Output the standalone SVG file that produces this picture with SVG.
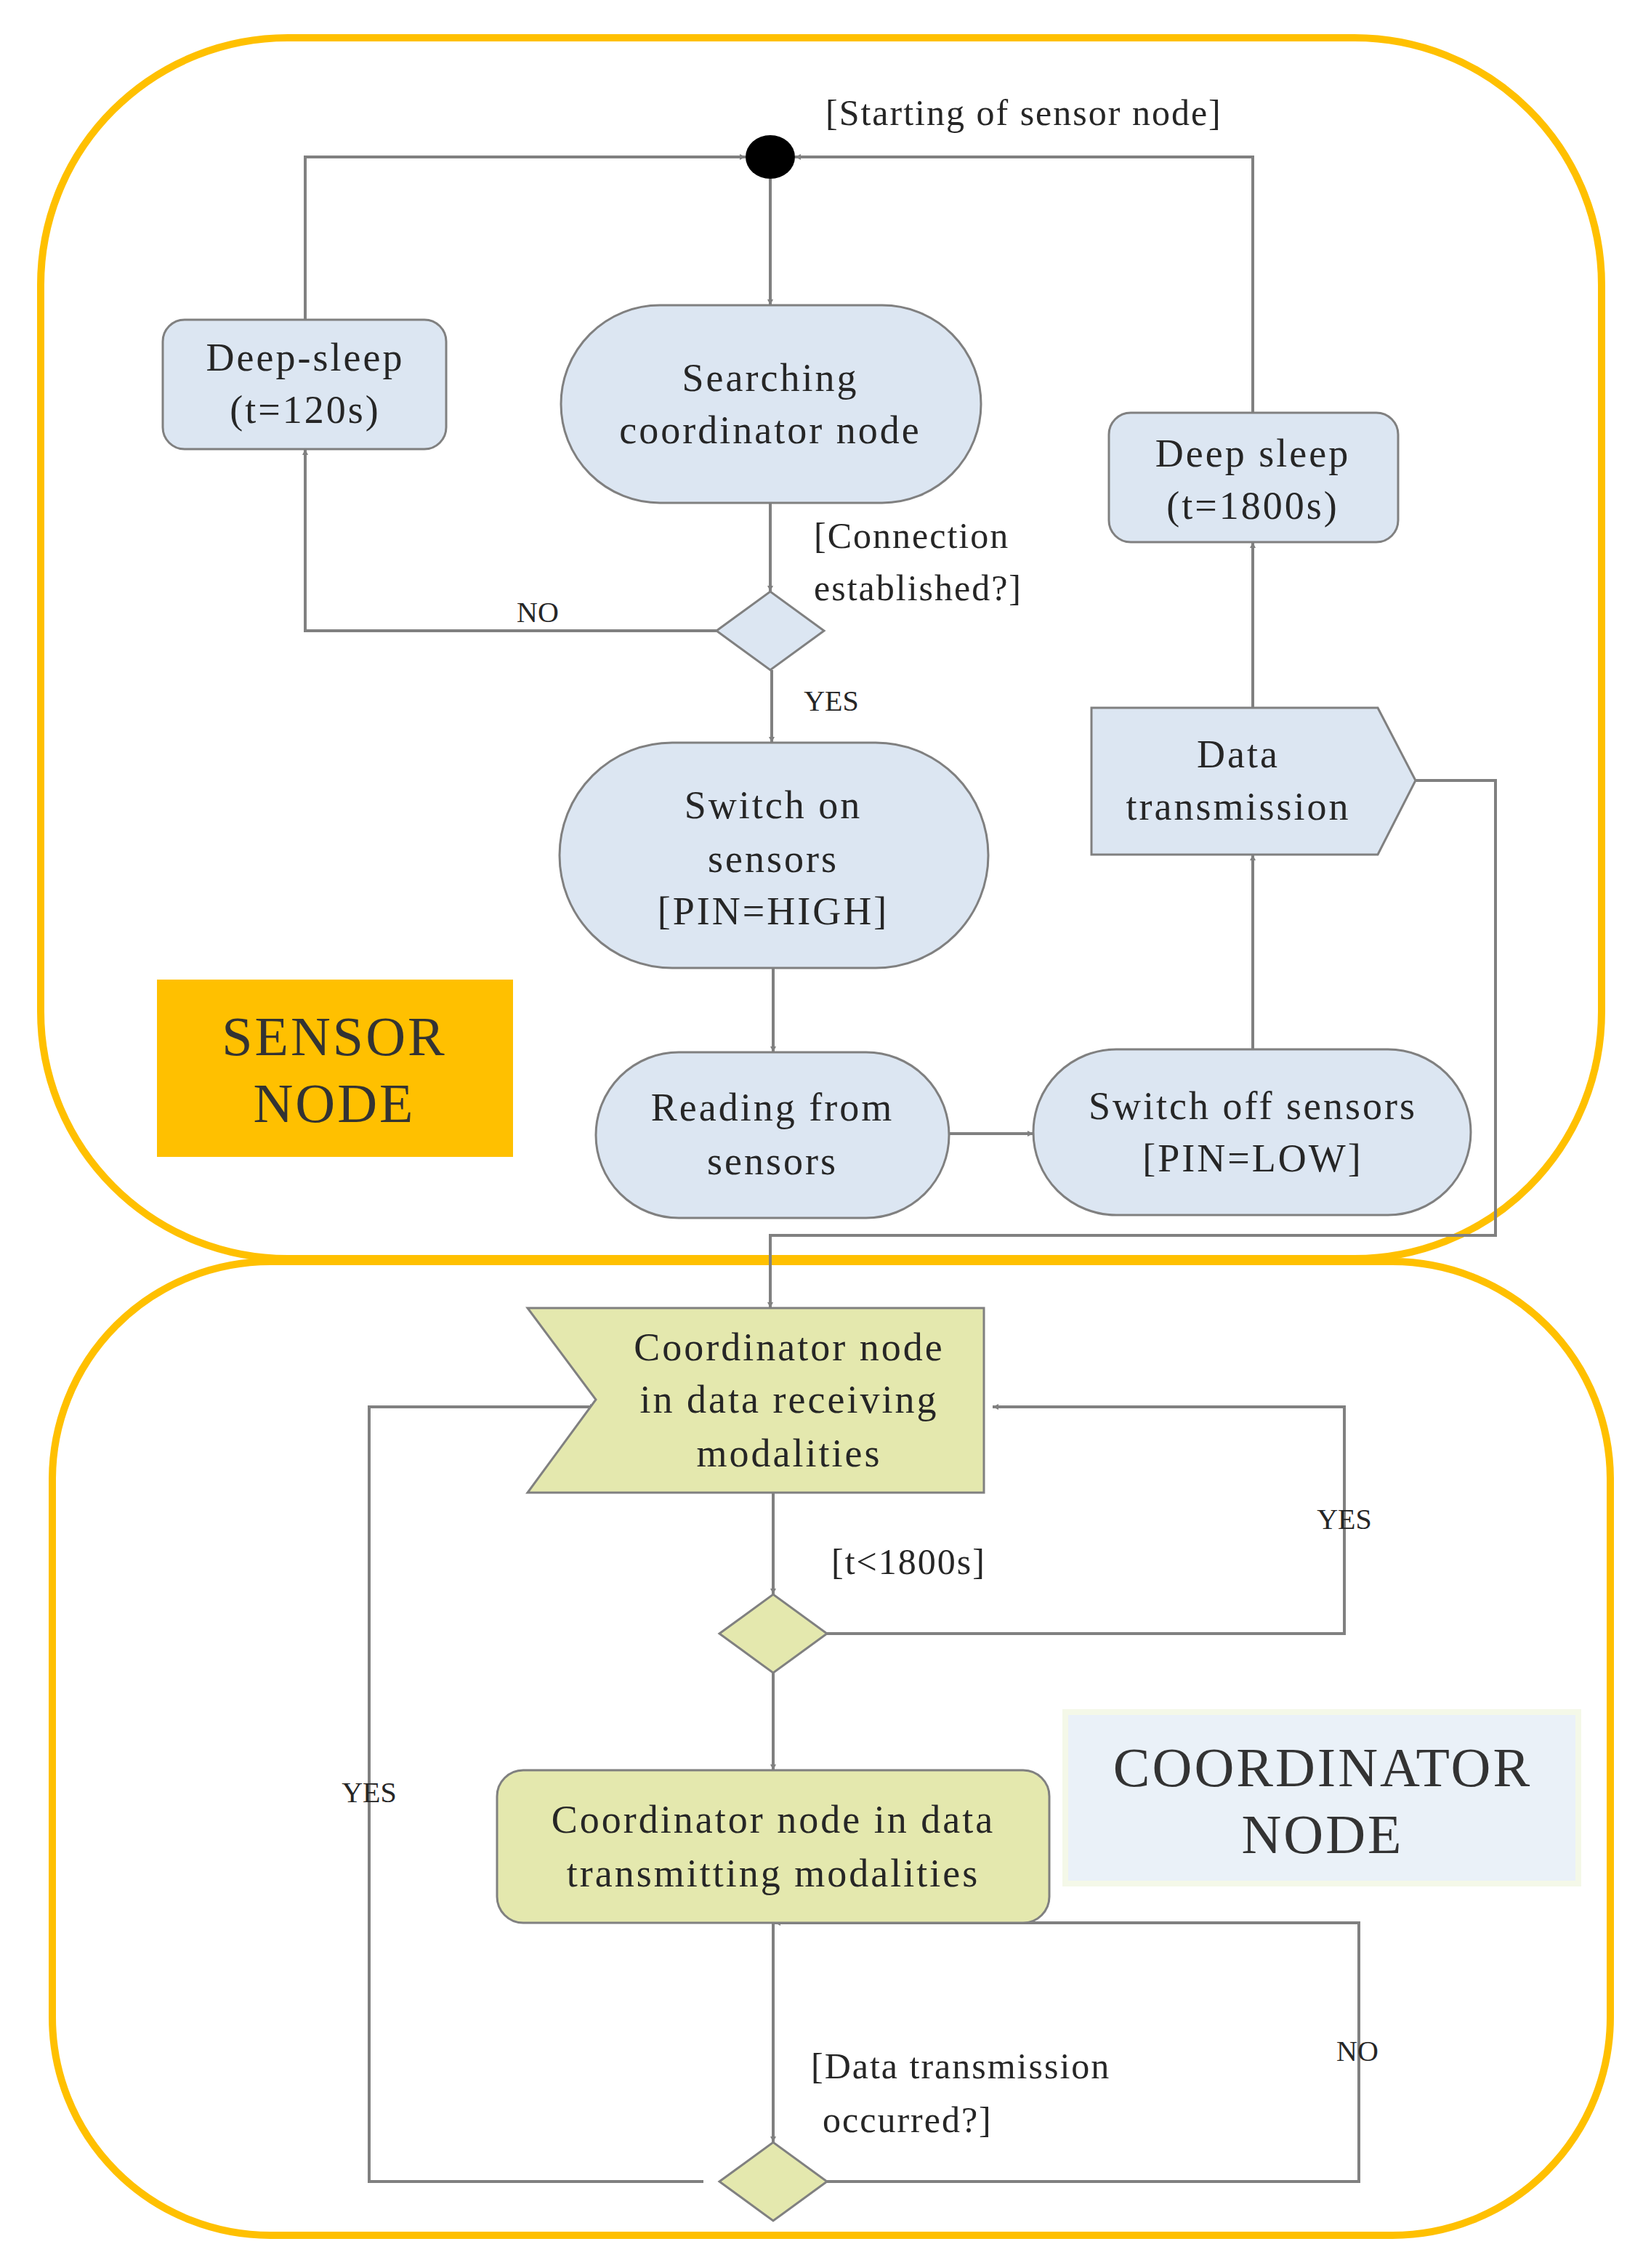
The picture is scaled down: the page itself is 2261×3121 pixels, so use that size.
<svg xmlns="http://www.w3.org/2000/svg" width="2261" height="3121" viewBox="0 0 2261 3121">
<style>
.c{fill:none;stroke:#FFC000;stroke-width:10}
.b{fill:#DCE6F2;stroke:#808080;stroke-width:3}
.o{fill:#E4E8AE;stroke:#808080;stroke-width:3}
.t{font-family:"Liberation Serif",serif;font-size:54px;fill:#262626;text-anchor:middle;letter-spacing:3px}
.l{font-family:"Liberation Serif",serif;font-size:50px;fill:#262626;letter-spacing:2px}
.s{font-family:"Liberation Serif",serif;font-size:40px;fill:#262626;text-anchor:middle}
.big{font-family:"Liberation Serif",serif;font-size:76px;fill:#333;text-anchor:middle;letter-spacing:3px}
#conn path{fill:none;stroke:#808080;stroke-width:4}
</style>
<defs><marker id="a" viewBox="0 0 10 10" refX="10" refY="5" markerWidth="8" markerHeight="8" markerUnits="userSpaceOnUse" orient="auto"><path d="M0,0L10,5L0,10z" fill="#808080"/></marker></defs>
<rect width="2261" height="3121" fill="#fff"/>
<rect class="c" x="56" y="52" width="2148" height="1680" rx="340"/>
<rect class="c" x="72" y="1736" width="2144" height="1340" rx="300"/>
<g id="conn">
<path d="M1060,246V420" marker-end="url(#a)" style="--m:1"/>
<path d="M420,440V216H1026" marker-end="url(#a)"/>
<path d="M1724,568V216H1094" marker-end="url(#a)"/>
<path d="M1060,692V814" marker-end="url(#a)"/>
<path d="M986,868H420V618" marker-end="url(#a)"/>
<path d="M1062,922V1022" marker-end="url(#a)"/>
<path d="M1064,1332V1448" marker-end="url(#a)"/>
<path d="M1306,1560H1422" marker-end="url(#a)"/>
<path d="M1724,1444V1176" marker-end="url(#a)"/>
<path d="M1724,974V746" marker-end="url(#a)"/>
<path d="M1948,1074H2058V1700H1060V1800" marker-end="url(#a)"/>
<path d="M1064,2054V2194" marker-end="url(#a)"/>
<path d="M1138,2248H1850V1936H1366" marker-end="url(#a)"/>
<path d="M1064,2302V2436" marker-end="url(#a)"/>
<path d="M1064,2646V2948" marker-end="url(#a)"/>
<path d="M1138,3002H1870V2646H1066" marker-end="url(#a)"/>
<path d="M968,3002H508V1936H820" marker-end="url(#a)"/>
</g>
<style>#conn marker{}</style>
<g id="start"><ellipse cx="1060" cy="216" rx="34" ry="30" fill="#000"/></g>
<text class="l" x="1136" y="172">[Starting of sensor node]</text>
<g id="deepsleep120"><rect class="b" x="224" y="440" width="390" height="178" rx="30"/><text class="t" x="420" y="510">Deep-sleep</text><text class="t" x="420" y="582">(t=120s)</text></g>
<g id="searching"><rect class="b" x="772" y="420" width="578" height="272" rx="136"/><text class="t" x="1060" y="538">Searching</text><text class="t" x="1060" y="610">coordinator node</text></g>
<g id="d1"><path class="b" d="M986,868L1060,814L1134,868L1060,922Z"/></g>
<text class="l" x="1120" y="754">[Connection</text><text class="l" x="1120" y="826">established?]</text>
<text class="s" x="740" y="856">NO</text><text class="s" x="1144" y="978">YES</text>
<g id="switchon"><rect class="b" x="770" y="1022" width="590" height="310" rx="155"/><text class="t" x="1064" y="1126">Switch on</text><text class="t" x="1064" y="1200">sensors</text><text class="t" x="1064" y="1272">[PIN=HIGH]</text></g>
<g id="reading"><rect class="b" x="820" y="1448" width="486" height="228" rx="114"/><text class="t" x="1063" y="1542">Reading from</text><text class="t" x="1063" y="1616">sensors</text></g>
<g id="switchoff"><rect class="b" x="1422" y="1444" width="602" height="228" rx="114"/><text class="t" x="1724" y="1540">Switch off sensors</text><text class="t" x="1724" y="1612">[PIN=LOW]</text></g>
<g id="datatx"><path class="b" d="M1502,974H1896L1948,1074L1896,1176H1502Z"/><text class="t" x="1704" y="1056">Data</text><text class="t" x="1704" y="1128">transmission</text></g>
<g id="deepsleep1800"><rect class="b" x="1526" y="568" width="398" height="178" rx="30"/><text class="t" x="1724" y="642">Deep sleep</text><text class="t" x="1724" y="714">(t=1800s)</text></g>
<g id="sensorlabel"><rect x="216" y="1348" width="490" height="244" fill="#FFC000"/><text class="big" x="460" y="1452">SENSOR</text><text class="big" x="460" y="1544">NODE</text></g>
<g id="receive"><path class="o" d="M726,1800H1354V2054H726L820,1926Z"/><text class="t" x="1086" y="1872">Coordinator node</text><text class="t" x="1086" y="1944">in data receiving</text><text class="t" x="1086" y="2018">modalities</text></g>
<g id="d2"><path class="o" d="M990,2248L1064,2194L1138,2248L1064,2302Z"/></g>
<text class="l" x="1144" y="2166">[t&lt;1800s]</text>
<text class="s" x="1850" y="2104">YES</text>
<g id="transmit"><rect class="o" x="684" y="2436" width="760" height="210" rx="36"/><text class="t" x="1064" y="2522">Coordinator node in data</text><text class="t" x="1064" y="2596">transmitting modalities</text></g>
<g id="coordlabel"><rect x="1466" y="2356" width="706" height="236" fill="#EAF1F8" stroke="#F4F8E8" stroke-width="8"/><text class="big" x="1820" y="2458">COORDINATOR</text><text class="big" x="1820" y="2550">NODE</text></g>
<g id="d3"><path class="o" d="M990,3002L1064,2948L1138,3002L1064,3056Z"/></g>
<text class="l" x="1116" y="2860">[Data transmission</text><text class="l" x="1132" y="2934">occurred?]</text>
<text class="s" x="1868" y="2836">NO</text><text class="s" x="508" y="2480">YES</text>
</svg>
